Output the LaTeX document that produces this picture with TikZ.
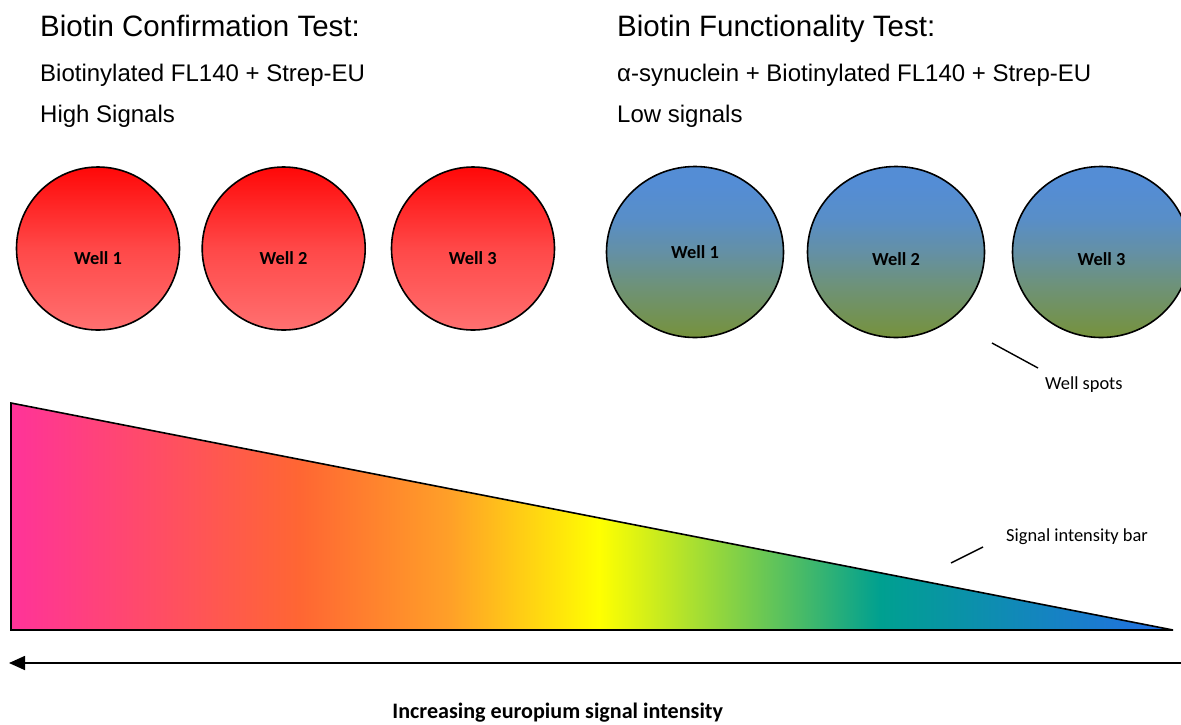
\documentclass[tikz,border=0pt]{standalone}
\usepackage{fontspec}
\setmainfont{Liberation Sans}
\newfontfamily\calfont{Carlito}
\usetikzlibrary{shapes.geometric,arrows.meta}
\definecolor{barpink}{RGB}{255,51,153}
\definecolor{barorange}{RGB}{255,102,51}
\definecolor{barorangeb}{RGB}{255,160,40}
\definecolor{baryellow}{RGB}{255,255,0}
\definecolor{barteal}{RGB}{0,160,144}
\definecolor{barblue}{RGB}{36,110,230}
\definecolor{wellred}{RGB}{255,8,8}
\definecolor{wellmidred}{RGB}{255,72,72}
\definecolor{welllightred}{RGB}{255,112,112}
\definecolor{wellblue}{RGB}{84,141,213}
\definecolor{wellbluea}{RGB}{88,142,200}
\definecolor{wellmid}{RGB}{100,144,165}
\definecolor{wellgreena}{RGB}{110,146,120}
\definecolor{wellgreen}{RGB}{118,146,60}
\pgfdeclarehorizontalshading{rainbowbar}{100bp}{color(0bp)=(barpink); color(25bp)=(barpink); color(37.4bp)=(barorange); color(43.9bp)=(barorangeb); color(50.3bp)=(baryellow); color(62.4bp)=(barteal); color(75bp)=(barblue); color(100bp)=(barblue)}
\pgfdeclareverticalshading{bluegreen}{100bp}{color(0bp)=(wellgreen); color(25bp)=(wellgreen); color(40bp)=(wellgreena); color(50bp)=(wellmid); color(60bp)=(wellbluea); color(70bp)=(wellblue); color(100bp)=(wellblue)}
\pgfdeclareverticalshading{redfade}{100bp}{color(0bp)=(welllightred); color(25bp)=(welllightred); color(50bp)=(wellmidred); color(75bp)=(wellred); color(100bp)=(wellred)}
\tikzset{
  redwell/.style={circle, draw=black, line width=1.6pt, minimum size=163pt, inner sep=0pt, shade, shading=redfade},
  bluewell/.style={ellipse, draw=black, line width=1.6pt, minimum width=177pt, minimum height=171pt, inner sep=0pt, shade, shading=bluegreen},
  welllabel/.style={font=\calfont\bfseries\fontsize{18.4}{22}\selectfont, inner sep=0pt},
  smalllabel/.style={font=\calfont\fontsize{18.4}{22}\selectfont, inner sep=0pt},
  titletext/.style={font=\fontsize{29.5}{35}\selectfont, inner sep=0pt, anchor=base west},
  subtext/.style={font=\fontsize{24}{29}\selectfont, inner sep=0pt, anchor=base west},
  thinline/.style={line width=1.4pt},
}
\begin{document}
\begin{tikzpicture}[x=1pt,y=-1pt]
\useasboundingbox (0,0) rectangle (1181,724);
\fill[white] (0,0) rectangle (1181,724);
% titles
\node[titletext] (lt) at (40,36) {Biotin Confirmation Test:};
\node[subtext] (ls) at (40,81.7) {Biotinylated FL140 + Strep-EU};
\node[subtext] (lh) at (40,122.7) {High Signals};
\node[titletext] (rt) at (617,36) {Biotin Functionality Test:};
\node[subtext] (rs) at (617,81.7) {α-synuclein + Biotinylated FL140 + Strep-EU};
\node[subtext] (rl) at (617,122.7) {Low signals};
% red wells
\node[redwell] (r1) at (98,248.5) {};
\node[redwell] (r2) at (283.7,248.5) {};
\node[redwell] (r3) at (473,248.5) {};
\node[welllabel] (r1t) at (98,258) {Well 1};
\node[welllabel] (r2t) at (283.5,258) {Well 2};
\node[welllabel] (r3t) at (472.8,258) {Well 3};
% blue wells
\node[bluewell] (b1) at (695,252) {};
\node[bluewell] (b2) at (896,252) {};
\node[bluewell] (b3) at (1101,252) {};
\node[welllabel] (b1t) at (695,252.5) {Well 1};
\node[welllabel] (b2t) at (896,259) {Well 2};
\node[welllabel] (b3t) at (1101.5,259) {Well 3};
% well spots callout
\node[smalllabel, anchor=west] (wst) at (1045,385) {Well spots};
\coordinate (wsp) at (992,343);
\coordinate (wsq) at (1038,368);
\draw[thinline] (wsp) -- (wsq);
% signal bar
\coordinate (tl) at (11,403);
\coordinate (bl) at (11,630);
\coordinate (br) at (1173,630);
\path[draw=black, line width=1.6pt, shade, shading=rainbowbar] (tl) -- (bl) -- (br) -- cycle;
\node[smalllabel, anchor=west] (sib) at (1006,537) {Signal intensity bar};
\coordinate (sia) at (951,563);
\coordinate (sic) at (983,547);
\draw[thinline] (sia) -- (sic);
% arrow
\coordinate (arrR) at (1181,663);
\coordinate (arrL) at (9,663);
\draw[line width=1.6pt, -{Triangle[length=16pt,width=14pt]}] (arrR) -- (arrL);
\node[font=\calfont\bfseries\fontsize{22.1}{26}\selectfont, inner sep=0pt] (inc) at (557.7,713) {Increasing europium signal intensity};
\end{tikzpicture}
\end{document}
